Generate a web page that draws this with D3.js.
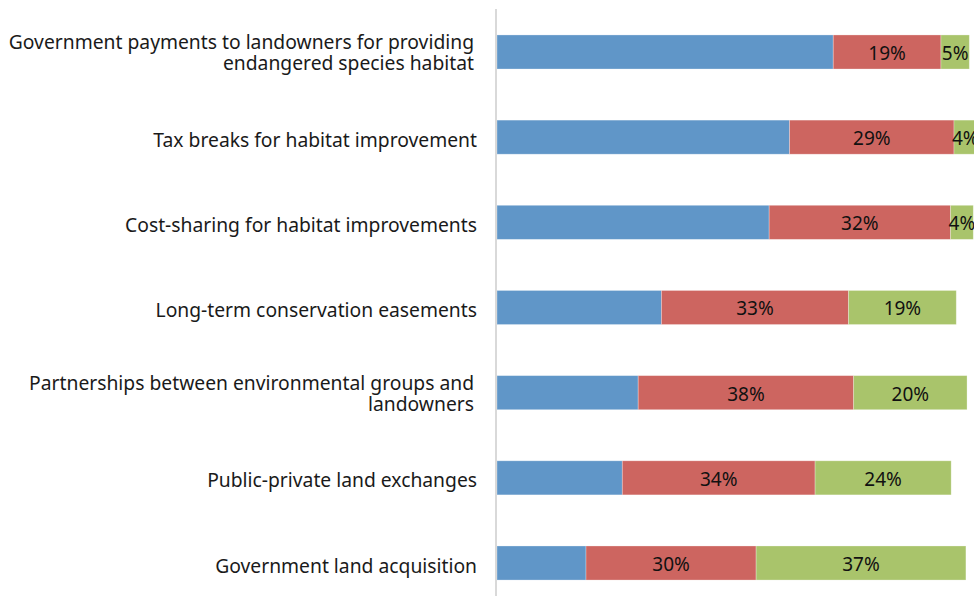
<!DOCTYPE html>
<html>
<head>
<meta charset="utf-8">
<script src="https://cdn.jsdelivr.net/npm/d3@7"></script>
<style>
  html, body { margin: 0; padding: 0; background: #fff; overflow: hidden; }
  svg { display: block; }
</style>
</head>
<body>
<svg id="chart" width="974" height="596"></svg>
<script>
// Policy options, listed top to bottom; "\n" marks a line break in the label
const categories = [
  "Government payments to landowners for providing\nendangered species habitat",
  "Tax breaks for habitat improvement",
  "Cost-sharing for habitat improvements",
  "Long-term conservation easements",
  "Partnerships between environmental groups and\nlandowners",
  "Public-private land exchanges",
  "Government land acquisition"
];

// Share of respondents (%) in each stacked segment
const seriesBlue  = [59.3, 51.6, 48.0, 29.0, 24.9, 22.1, 15.7];
const seriesRed   = [19, 29, 32, 33, 38, 34, 30];
const seriesGreen = [5, 4, 4, 19, 20, 24, 37];

const seriesKeys = ["blue", "red", "green"];
const seriesColors = { blue: "#6096c8", red: "#cd6560", green: "#a9c46b" };
const labelledSeries = new Set(["red", "green"]);

const rows = categories.map((c, i) => ({
  category: c,
  blue: seriesBlue[i],
  red: seriesRed[i],
  green: seriesGreen[i]
}));

const svg = d3.select("#chart");

const x = d3.scaleLinear().domain([0, 100]).range([497, 1064]);
const y = d3.scaleBand()
  .domain(categories)
  .range([9.4, 605.6])
  .paddingInner(0.6)
  .paddingOuter(0.3);

const stacked = d3.stack().keys(seriesKeys)(rows);

// Stacked segments
const layers = svg.append("g")
  .selectAll("g")
  .data(stacked)
  .join("g")
  .attr("fill", d => seriesColors[d.key]);

layers.selectAll("rect")
  .data(d => d.map(s => ({ key: d.key, s })))
  .join("rect")
  .attr("x", d => x(d.s[0]))
  .attr("y", d => y(d.s.data.category))
  .attr("width", d => x(d.s[1]) - x(d.s[0]))
  .attr("height", y.bandwidth())
  .attr("stroke", "rgba(255,255,255,0.35)")
  .attr("stroke-width", 0.8);

// Value labels on the red and green segments
layers.filter(d => labelledSeries.has(d.key))
  .selectAll("text")
  .data(d => d.map(s => ({ key: d.key, s })))
  .join("text")
  .attr("x", d => (x(d.s[0]) + x(d.s[1])) / 2)
  .attr("y", d => y(d.s.data.category) + y.bandwidth() / 2)
  .attr("dy", "0.42em")
  .attr("text-anchor", "middle")
  .attr("font-family", "'Noto Sans', sans-serif")
  .attr("font-size", 19)
  .attr("fill", "#111")
  .text(d => Math.round(d.s[1] - d.s[0]) + "%");

// Category axis on the left
const axis = svg.append("g")
  .attr("transform", "translate(496,0)")
  .call(d3.axisLeft(y).tickSize(0).tickPadding(19));

axis.select(".domain").remove();
svg.append("line")
  .attr("x1", 496).attr("x2", 496)
  .attr("y1", 9).attr("y2", 605.6)
  .attr("stroke", "#d9d9d9")
  .attr("stroke-width", 2);

const labelSize = 19.3;
const lineH = 21;
axis.selectAll(".tick text")
  .attr("font-family", "'Noto Sans', sans-serif")
  .attr("font-size", labelSize)
  .attr("fill", "#1a1a1a")
  .attr("dy", null)
  .each(function (d) {
    const lines = d.split("\n");
    const t = d3.select(this).text(null);
    // baseline of the first line, relative to the band centre
    const firstBaseline = lines.length > 1 ? -3 : 9.5;
    lines.forEach((line, i) => {
      t.append("tspan")
        .attr("x", lines.length > 1 ? -22 : -19)
        .attr("y", firstBaseline + i * lineH)
        .text(line);
    });
  });
</script>
</body>
</html>
